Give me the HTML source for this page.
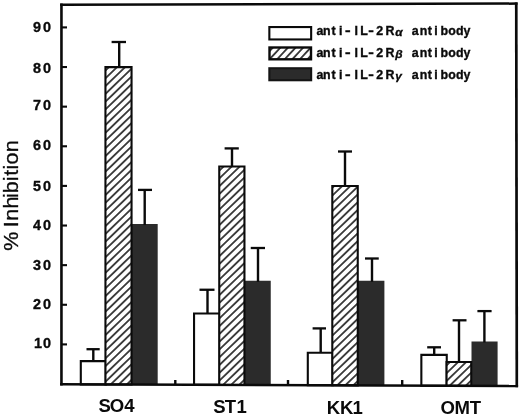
<!DOCTYPE html>
<html><head><meta charset="utf-8"><title>% Inhibition</title>
<style>
html,body{margin:0;padding:0;background:#fff;}
body{width:520px;height:417px;overflow:hidden;}
svg{display:block;filter:blur(0.3px);}
text{font-family:"Liberation Sans",sans-serif;fill:#0a0a0a;}
.b{font-weight:bold;}
.s{stroke:#0a0a0a;stroke-width:0.35px;}
</style></head><body>
<svg width="520" height="417" viewBox="0 0 520 417">
<defs><pattern id="h0" patternUnits="userSpaceOnUse" width="30" height="5.596" patternTransform="translate(106.5 77.3) rotate(-44.0)"><rect x="0" y="-0.750" width="30" height="1.5" fill="#0a0a0a"/><rect x="0" y="4.846" width="30" height="1.5" fill="#0a0a0a"/></pattern><pattern id="h1" patternUnits="userSpaceOnUse" width="30" height="5.596" patternTransform="translate(220.4 177.4) rotate(-44.0)"><rect x="0" y="-0.750" width="30" height="1.5" fill="#0a0a0a"/><rect x="0" y="4.846" width="30" height="1.5" fill="#0a0a0a"/></pattern><pattern id="h2" patternUnits="userSpaceOnUse" width="30" height="5.596" patternTransform="translate(333.05 194.9) rotate(-44.0)"><rect x="0" y="-0.750" width="30" height="1.5" fill="#0a0a0a"/><rect x="0" y="4.846" width="30" height="1.5" fill="#0a0a0a"/></pattern><pattern id="h3" patternUnits="userSpaceOnUse" width="30" height="5.596" patternTransform="translate(447.7 372.1) rotate(-44.0)"><rect x="0" y="-0.750" width="30" height="1.5" fill="#0a0a0a"/><rect x="0" y="4.846" width="30" height="1.5" fill="#0a0a0a"/></pattern><pattern id="hl" patternUnits="userSpaceOnUse" width="30" height="5.550" patternTransform="translate(270.8 57.9) rotate(-47)"><rect x="0" y="-0.750" width="30" height="1.5" fill="#0a0a0a"/><rect x="0" y="4.800" width="30" height="1.5" fill="#0a0a0a"/></pattern></defs>
<rect width="520" height="417" fill="#fff"/>

<polygon points="130.8,224.1 157.7,224.1 157.7,384.662 130.8,384.562" fill="#2b2b2b"/>
<polygon points="80.8,361.15 105.85,361.15 105.85,384.47 80.8,384.377" fill="#fff" stroke="#0a0a0a" stroke-width="2.1"/>
<polygon points="105.45,67.149 131.549,67.149 131.549,384.565 105.45,384.468" fill="#fff"/>
<polygon points="105.45,67.149 131.549,67.149 131.549,384.565 105.45,384.468" fill="url(#h0)" stroke="#0a0a0a" stroke-width="2.1"/>
<line x1="93.3" y1="349.2" x2="93.3" y2="361.1" stroke="#0a0a0a" stroke-width="2.4"/>
<line x1="86.5" y1="349.2" x2="99.7" y2="349.2" stroke="#0a0a0a" stroke-width="2.3"/>
<line x1="119.2" y1="42.0" x2="119.2" y2="67.1" stroke="#0a0a0a" stroke-width="2.4"/>
<line x1="111.6" y1="42.0" x2="126.0" y2="42.0" stroke="#0a0a0a" stroke-width="2.3"/>
<line x1="144.7" y1="189.9" x2="144.7" y2="225.1" stroke="#0a0a0a" stroke-width="2.4"/>
<line x1="138" y1="189.9" x2="152" y2="189.9" stroke="#0a0a0a" stroke-width="2.3"/>
<polygon points="243.6,280.75 270.75,280.75 270.75,385.082 243.6,384.981" fill="#2b2b2b"/>
<polygon points="194.05,313.55 219.75,313.55 219.75,384.892 194.05,384.797" fill="#fff" stroke="#0a0a0a" stroke-width="2.1"/>
<polygon points="219.25,166.55 244.45,166.55 244.45,384.984 219.25,384.891" fill="#fff"/>
<polygon points="219.25,166.55 244.45,166.55 244.45,384.984 219.25,384.891" fill="url(#h1)" stroke="#0a0a0a" stroke-width="2.1"/>
<line x1="207.5" y1="289.75" x2="207.5" y2="313.5" stroke="#0a0a0a" stroke-width="2.4"/>
<line x1="199.5" y1="289.75" x2="214.5" y2="289.75" stroke="#0a0a0a" stroke-width="2.3"/>
<line x1="232" y1="148.4" x2="232" y2="166.5" stroke="#0a0a0a" stroke-width="2.4"/>
<line x1="224.6" y1="148.4" x2="238.8" y2="148.4" stroke="#0a0a0a" stroke-width="2.3"/>
<line x1="258" y1="248" x2="258" y2="281.75" stroke="#0a0a0a" stroke-width="2.4"/>
<line x1="250.75" y1="248" x2="265" y2="248" stroke="#0a0a0a" stroke-width="2.3"/>
<polygon points="356.9,280.75 384.4,280.75 384.4,385.504 356.9,385.402" fill="#2b2b2b"/>
<polygon points="307.8,352.8 332.7,352.8 332.7,385.312 307.8,385.219" fill="#fff" stroke="#0a0a0a" stroke-width="2.1"/>
<polygon points="332.3,186.05 357.75,186.05 357.75,385.405 332.3,385.31" fill="#fff"/>
<polygon points="332.3,186.05 357.75,186.05 357.75,385.405 332.3,385.31" fill="url(#h2)" stroke="#0a0a0a" stroke-width="2.1"/>
<line x1="320.7" y1="328.4" x2="320.7" y2="352.75" stroke="#0a0a0a" stroke-width="2.4"/>
<line x1="312.6" y1="328.4" x2="326.0" y2="328.4" stroke="#0a0a0a" stroke-width="2.3"/>
<line x1="345" y1="151.5" x2="345" y2="186" stroke="#0a0a0a" stroke-width="2.4"/>
<line x1="338" y1="151.5" x2="352" y2="151.5" stroke="#0a0a0a" stroke-width="2.3"/>
<line x1="372" y1="258.5" x2="372" y2="281.75" stroke="#0a0a0a" stroke-width="2.4"/>
<line x1="365" y1="258.5" x2="378.75" y2="258.5" stroke="#0a0a0a" stroke-width="2.3"/>
<polygon points="471.5,341.5 497.6,341.5 497.6,385.924 471.5,385.827" fill="#2b2b2b"/>
<polygon points="421.35,354.85 446.75,354.85 446.75,385.735 421.35,385.641" fill="#fff" stroke="#0a0a0a" stroke-width="2.1"/>
<polygon points="446.55,362.05 471.25,362.05 471.25,385.826 446.55,385.734" fill="#fff"/>
<polygon points="446.55,362.05 471.25,362.05 471.25,385.826 446.55,385.734" fill="url(#h3)" stroke="#0a0a0a" stroke-width="2.1"/>
<line x1="434.2" y1="347.3" x2="434.2" y2="354.8" stroke="#0a0a0a" stroke-width="2.4"/>
<line x1="427.2" y1="347.3" x2="441" y2="347.3" stroke="#0a0a0a" stroke-width="2.3"/>
<line x1="459.0" y1="320.3" x2="459.0" y2="362.0" stroke="#0a0a0a" stroke-width="2.4"/>
<line x1="452.6" y1="320.3" x2="466.5" y2="320.3" stroke="#0a0a0a" stroke-width="2.3"/>
<line x1="484.4" y1="311.1" x2="484.4" y2="342.5" stroke="#0a0a0a" stroke-width="2.4"/>
<line x1="477.4" y1="311.1" x2="491.6" y2="311.1" stroke="#0a0a0a" stroke-width="2.3"/>
<line x1="61.45" y1="3.6" x2="61.45" y2="385.50" stroke="#0a0a0a" stroke-width="2.6"/>
<line x1="60.15" y1="4.75" x2="517.6" y2="3.6" stroke="#0a0a0a" stroke-width="2.5"/>
<line x1="516.25" y1="2.4" x2="516.8" y2="387.25" stroke="#0a0a0a" stroke-width="2.7"/>
<line x1="60.15" y1="384.30" x2="518.1" y2="386.00" stroke="#0a0a0a" stroke-width="2.5"/>
<line x1="62" y1="27.40" x2="67" y2="27.40" stroke="#0a0a0a" stroke-width="2.1"/>
<text class="b s" x="32.9" y="31.90" font-size="14.4" letter-spacing="2.2">90</text>
<line x1="62" y1="67.03" x2="67" y2="67.03" stroke="#0a0a0a" stroke-width="2.1"/>
<text class="b s" x="32.9" y="72.80" font-size="14.4" letter-spacing="2.2">80</text>
<line x1="62" y1="106.65" x2="67" y2="106.65" stroke="#0a0a0a" stroke-width="2.1"/>
<text class="b s" x="32.9" y="110.20" font-size="14.4" letter-spacing="2.2">70</text>
<line x1="62" y1="146.28" x2="67" y2="146.28" stroke="#0a0a0a" stroke-width="2.1"/>
<text class="b s" x="32.9" y="150.40" font-size="14.4" letter-spacing="2.2">60</text>
<line x1="62" y1="185.90" x2="67" y2="185.90" stroke="#0a0a0a" stroke-width="2.1"/>
<text class="b s" x="32.9" y="190.60" font-size="14.4" letter-spacing="2.2">50</text>
<line x1="62" y1="225.53" x2="67" y2="225.53" stroke="#0a0a0a" stroke-width="2.1"/>
<text class="b s" x="32.9" y="230.00" font-size="14.4" letter-spacing="2.2">40</text>
<line x1="62" y1="265.15" x2="67" y2="265.15" stroke="#0a0a0a" stroke-width="2.1"/>
<text class="b s" x="32.9" y="269.80" font-size="14.4" letter-spacing="2.2">30</text>
<line x1="62" y1="304.77" x2="67" y2="304.77" stroke="#0a0a0a" stroke-width="2.1"/>
<text class="b s" x="32.9" y="309.40" font-size="14.4" letter-spacing="2.2">20</text>
<line x1="62" y1="344.40" x2="67" y2="344.40" stroke="#0a0a0a" stroke-width="2.1"/>
<text class="b s" x="34.0 43.1" y="348.10" font-size="14.4" letter-spacing="2.2">10</text>
<line x1="175.3" y1="380.0" x2="175.3" y2="384.73" stroke="#0a0a0a" stroke-width="2.4"/>
<line x1="288.0" y1="380.0" x2="288.0" y2="385.15" stroke="#0a0a0a" stroke-width="2.4"/>
<line x1="402.2" y1="380.0" x2="402.2" y2="385.57" stroke="#0a0a0a" stroke-width="2.4"/>
<text class="b" transform="scale(1.03 1)" x="95.55 106.59 120.65" y="412.5" font-size="18.0">SO4</text>
<text class="b" transform="scale(1.03 1)" x="207.01 218.10 229.69" y="413.1" font-size="18.0">ST1</text>
<text class="b" transform="scale(1.03 1)" x="317.29 330.20 342.12" y="414.0" font-size="18.0">KK1</text>
<text class="b" transform="scale(1.03 1)" x="427.56 441.27 456.06" y="414.4" font-size="18.0">OMT</text>
<text transform="translate(17.9 260.0) rotate(-90) scale(1.1 1)" font-size="19.5" x="8.38 13.38 29.88 35.61 46.81 56.38 60.72 71.70 76.53 82.34 86.80 97.88" y="0" stroke="#0a0a0a" stroke-width="0.3">% Inhibition</text>
<rect x="269.35" y="27.05" width="41.80" height="12.40" fill="#fff" stroke="#0a0a0a" stroke-width="2.1"/>
<rect x="269.5" y="47.5" width="41.499" height="11.8" fill="#fff"/>
<rect x="269.5" y="47.5" width="41.50" height="11.80" fill="url(#hl)" stroke="#0a0a0a" stroke-width="2.4"/>
<rect x="269.35" y="68.25" width="41.80" height="12.00" fill="#2b2b2b" stroke="#141414" stroke-width="2.1"/>
<text class="b s" font-size="12.4" y="35" x="316.4 322.98 331.48 338.93 345.0 354.43 360.13 368.3 376.23 385.53 395.33 406 411.8 419.68 427.78 434.33 440.38 448.2 456.0 463.58">anti<tspan textLength="5.6" lengthAdjust="spacingAndGlyphs">-</tspan>IL<tspan textLength="5.6" lengthAdjust="spacingAndGlyphs">-</tspan>2R<tspan font-style="italic" font-size="11.8" dy="1">α</tspan><tspan dy="-1"> </tspan>antibody</text>
<text class="b s" font-size="12.4" y="56.9" x="316.4 322.98 331.48 338.93 345.0 354.43 360.13 368.3 376.23 385.53 395.33 406 411.8 419.68 427.78 434.33 440.38 448.2 456.0 463.58">anti<tspan textLength="5.6" lengthAdjust="spacingAndGlyphs">-</tspan>IL<tspan textLength="5.6" lengthAdjust="spacingAndGlyphs">-</tspan>2R<tspan font-style="italic" font-size="11.8" dy="1">β</tspan><tspan dy="-1"> </tspan>antibody</text>
<text class="b s" font-size="12.4" y="78.6" x="316.4 322.98 331.48 338.93 345.0 354.43 360.13 368.3 376.23 385.53 395.33 406 411.8 419.68 427.78 434.33 440.38 448.2 456.0 463.58">anti<tspan textLength="5.6" lengthAdjust="spacingAndGlyphs">-</tspan>IL<tspan textLength="5.6" lengthAdjust="spacingAndGlyphs">-</tspan>2R<tspan font-style="italic" font-size="11.8" dy="1">γ</tspan><tspan dy="-1"> </tspan>antibody</text>
</svg></body></html>
